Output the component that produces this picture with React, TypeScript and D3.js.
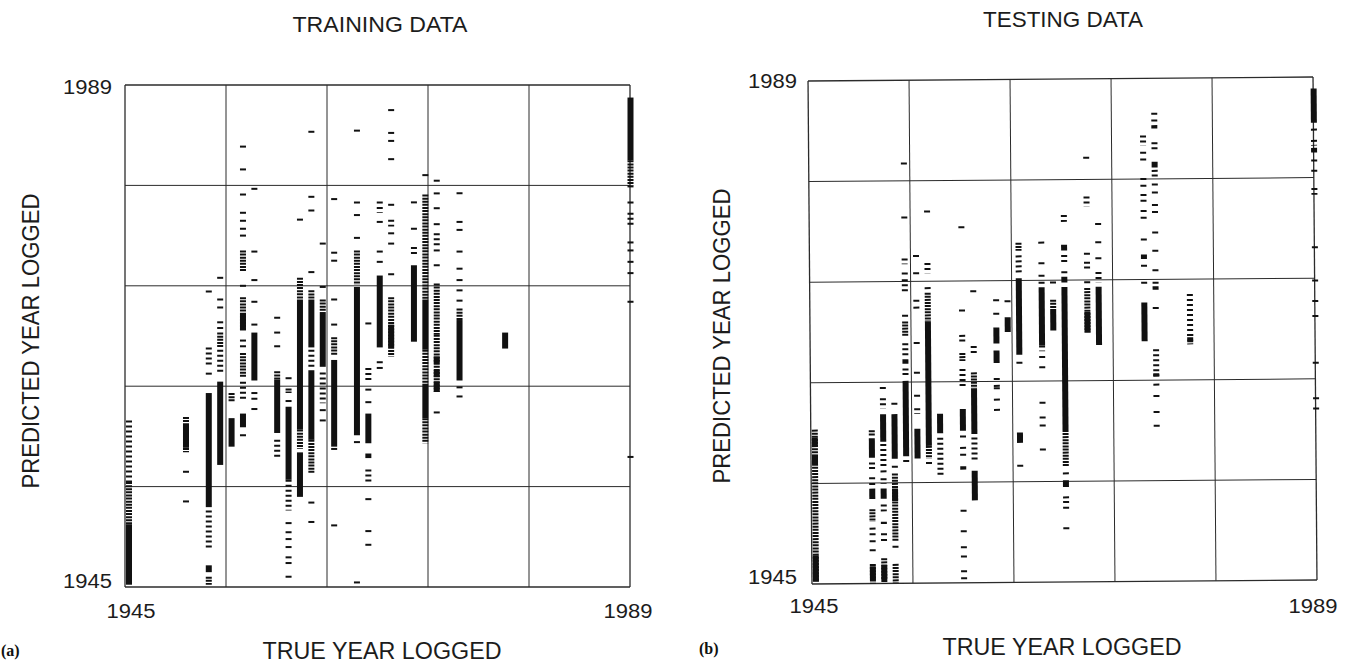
import React, { useEffect, useRef } from 'react';
import * as d3 from 'd3';

// [true year, kind, predicted from, predicted to]
// kind: 's' = solid block, 'd' = dense dashes, 'l' = loose dashes
type Run = [number, string, number, number];
// [true year, list of single predicted years]
type Singles = [number, number[]];

const YEAR_MIN = 1945;
const YEAR_MAX = 1989;
const tickYears = [1945, 1989];

const panelTitles = ['TRAINING DATA', 'TESTING DATA'];
const panelTags = ['(a)', '(b)'];
const xAxisTitle = 'TRUE YEAR LOGGED';
const yAxisTitle = 'PREDICTED YEAR LOGGED';

const trainRuns: Run[] = [
  [1945, 'l', 1954.2, 1959.6], [1945, 'd', 1949.7, 1954.2], [1945, 's', 1945.2, 1950.5],
  [1950, 'd', 1956.8, 1959.9], [1950, 's', 1957.2, 1959.2],
  [1952, 'l', 1964.5, 1966.0], [1952, 's', 1952.0, 1962.0], [1952, 'l', 1948.2, 1951.7],
  [1952, 's', 1946.3, 1946.9], [1952, 'd', 1945.2, 1945.9],
  [1953, 'd', 1966.0, 1967.3], [1953, 'l', 1963.8, 1965.8], [1953, 's', 1955.7, 1963.0],
  [1954, 'd', 1961.2, 1962.0], [1954, 's', 1957.3, 1959.8],
  [1955, 'd', 1972.6, 1974.5], [1955, 'd', 1967.5, 1970.4], [1955, 's', 1967.5, 1969.0],
  [1955, 'd', 1963.4, 1965.5], [1955, 'l', 1961.5, 1963.0], [1955, 's', 1959.0, 1960.2],
  [1956, 's', 1963.1, 1967.3],
  [1958, 'd', 1963.2, 1963.9], [1958, 's', 1958.5, 1963.2], [1958, 'l', 1956.3, 1957.9],
  [1959, 'd', 1962.0, 1962.4], [1959, 's', 1954.4, 1960.8], [1959, 'l', 1951.7, 1954.4],
  [1960, 'd', 1970.2, 1972.1], [1960, 's', 1958.8, 1970.2], [1960, 'd', 1957.1, 1958.8],
  [1960, 's', 1952.9, 1956.8],
  [1961, 'd', 1970.2, 1971.0], [1961, 's', 1966.0, 1970.2], [1961, 'l', 1964.3, 1965.8],
  [1961, 's', 1957.9, 1964.0], [1961, 'd', 1955.0, 1957.9],
  [1962, 'd', 1969.1, 1970.2], [1962, 's', 1964.3, 1969.1], [1962, 'l', 1961.1, 1963.8],
  [1963, 'd', 1965.3, 1966.9], [1963, 's', 1957.3, 1964.9],
  [1965, 'd', 1971.5, 1974.5], [1965, 's', 1958.3, 1971.3],
  [1966, 'l', 1963.0, 1964.2], [1966, 's', 1957.6, 1960.2], [1966, 's', 1956.3, 1956.7],
  [1966, 'l', 1954.2, 1955.3],
  [1967, 'l', 1977.8, 1978.3], [1967, 's', 1966.0, 1972.3],
  [1968, 'l', 1976.6, 1977.2], [1968, 'l', 1972.2, 1972.5], [1968, 'd', 1965.2, 1970.4],
  [1968, 's', 1966.0, 1968.0],
  [1970, 'l', 1978.5, 1978.8], [1970, 'l', 1974.1, 1974.8], [1970, 's', 1966.5, 1973.2],
  [1971, 'd', 1970.2, 1979.4], [1971, 's', 1965.8, 1970.2], [1971, 'd', 1962.8, 1965.8],
  [1971, 's', 1959.8, 1962.8], [1971, 'd', 1957.6, 1959.8],
  [1972, 'l', 1980.4, 1980.7], [1972, 'l', 1974.8, 1976.0], [1972, 'd', 1967.1, 1971.6],
  [1972, 'd', 1962.1, 1967.1], [1972, 's', 1962.1, 1963.0], [1972, 's', 1963.4, 1964.0],
  [1972, 's', 1964.6, 1965.2],
  [1974, 'l', 1979.2, 1979.6], [1974, 'd', 1968.4, 1969.4], [1974, 's', 1963.1, 1968.4],
  [1978, 's', 1965.9, 1967.3],
  [1989, 's', 1982.4, 1987.9], [1989, 'd', 1980.2, 1982.4], [1989, 'l', 1979.8, 1980.2],
  [1989, 'l', 1976.6, 1977.8], [1989, 'l', 1972.3, 1972.6],
];

const trainSingles: Singles[] = [
  [1950, [1955.1, 1952.5]],
  [1952, [1970.9, 1963.7]],
  [1953, [1972.1, 1970.2, 1969.5, 1968.2, 1967.7]],
  [1955, [1983.6, 1981.6, 1979.4, 1977.8, 1977.1, 1976.4, 1975.8, 1971.4, 1966.6, 1966.1, 1958.3]],
  [1956, [1979.9, 1974.4, 1971.9, 1970.0, 1968.0, 1962.0, 1961.5, 1960.6]],
  [1958, [1968.6, 1967.3, 1966.1]],
  [1959, [1963.3, 1961.3, 1950.6, 1949.8, 1949.2, 1948.5, 1947.6, 1947.1, 1945.9]],
  [1960, [1977.2]],
  [1961, [1984.9, 1979.2, 1978.0, 1972.6, 1952.4, 1950.7]],
  [1962, [1975.1, 1971.3, 1960.5, 1959.6]],
  [1963, [1979.0, 1974.3, 1973.6, 1970.2, 1968.0, 1957.1, 1950.4]],
  [1965, [1985.0, 1978.7, 1977.6, 1975.6, 1957.7, 1945.4]],
  [1966, [1968.1, 1962.3, 1961.2, 1952.7, 1949.9, 1948.7]],
  [1967, [1978.7, 1977.0, 1974.4, 1973.5, 1964.7, 1964.2]],
  [1968, [1986.8, 1984.8, 1984.1, 1982.5, 1978.5, 1976.0, 1975.1]],
  [1970, [1976.4]],
  [1971, [1981.1]],
  [1972, [1979.5, 1978.2, 1976.8, 1974.5, 1973.2, 1960.3]],
  [1974, [1977.0, 1976.3, 1974.4, 1972.9, 1971.9, 1971.0, 1970.1, 1962.5, 1961.7]],
  [1989, [1978.7, 1975.2, 1974.5, 1973.5, 1970.0, 1956.4]],
];

const testRuns: Run[] = [
  [1945, 'd', 1945.2, 1958.5], [1945, 's', 1945.2, 1947.5], [1945, 's', 1957.0, 1957.8],
  [1945, 's', 1955.5, 1956.3],
  [1950, 'd', 1957.9, 1958.4], [1950, 's', 1956.0, 1957.7], [1950, 's', 1952.4, 1953.3],
  [1950, 'd', 1950.4, 1951.5], [1950, 'd', 1945.0, 1946.7], [1950, 's', 1945.3, 1946.5],
  [1951, 'l', 1960.3, 1961.2], [1951, 's', 1957.4, 1959.8], [1951, 'l', 1955.1, 1957.2],
  [1951, 'l', 1953.7, 1954.2], [1951, 's', 1952.4, 1953.3], [1951, 'l', 1951.3, 1951.9],
  [1951, 's', 1950.2, 1950.4], [1951, 'd', 1945.0, 1947.2], [1951, 's', 1945.3, 1946.6],
  [1952, 's', 1955.9, 1959.8], [1952, 'd', 1948.7, 1954.6], [1952, 's', 1952.2, 1953.3],
  [1952, 'd', 1945.0, 1946.7],
  [1953, 'l', 1981.5, 1981.8], [1953, 'l', 1972.9, 1973.4], [1953, 'l', 1970.5, 1971.6],
  [1953, 'd', 1966.6, 1967.9], [1953, 'l', 1964.9, 1966.0], [1953, 's', 1964.2, 1964.6],
  [1953, 's', 1956.1, 1962.7],
  [1954, 'l', 1973.4, 1973.7], [1954, 'l', 1959.8, 1960.3], [1954, 's', 1955.9, 1958.5],
  [1955, 'l', 1972.1, 1973.0], [1955, 'd', 1967.9, 1970.4], [1955, 's', 1957.0, 1967.9],
  [1955, 'd', 1955.9, 1957.0],
  [1956, 's', 1958.1, 1959.8], [1956, 'l', 1954.4, 1957.7],
  [1958, 'l', 1968.6, 1968.9], [1958, 'd', 1964.4, 1965.1], [1958, 'l', 1962.0, 1963.7],
  [1958, 's', 1958.3, 1960.2], [1958, 's', 1954.9, 1955.2],
  [1959, 'l', 1964.9, 1965.7], [1959, 'd', 1962.0, 1963.4], [1959, 's', 1958.0, 1962.0],
  [1959, 'l', 1955.7, 1957.7], [1959, 's', 1952.2, 1954.8],
  [1961, 'l', 1968.2, 1968.6], [1961, 's', 1965.9, 1967.3], [1961, 's', 1964.2, 1965.3],
  [1962, 's', 1966.9, 1968.2],
  [1963, 'd', 1974.0, 1974.7], [1963, 'l', 1972.1, 1973.6], [1963, 's', 1964.9, 1971.6],
  [1963, 's', 1957.2, 1958.1],
  [1965, 's', 1965.7, 1970.8], [1965, 'l', 1965.2, 1965.7],
  [1966, 'd', 1968.8, 1969.7], [1966, 's', 1967.0, 1968.8],
  [1967, 'l', 1976.5, 1977.1], [1967, 's', 1974.0, 1974.5], [1967, 'l', 1972.9, 1973.6],
  [1967, 's', 1971.2, 1971.7], [1967, 's', 1958.3, 1970.8], [1967, 'd', 1955.1, 1958.3],
  [1967, 's', 1953.3, 1953.9],
  [1969, 'l', 1977.8, 1978.7], [1969, 'l', 1972.7, 1973.0], [1969, 'd', 1966.8, 1970.7],
  [1969, 's', 1966.8, 1968.6],
  [1970, 'l', 1971.2, 1972.1], [1970, 's', 1965.7, 1970.8],
  [1974, 'l', 1983.1, 1984.0], [1974, 'l', 1976.5, 1976.9], [1974, 's', 1973.2, 1973.6],
  [1974, 'l', 1970.8, 1971.2], [1974, 's', 1966.0, 1969.4],
  [1975, 'l', 1985.2, 1985.4], [1975, 's', 1984.6, 1984.9], [1975, 'l', 1982.7, 1983.4],
  [1975, 's', 1981.2, 1981.7], [1975, 'l', 1977.8, 1978.0], [1975, 'l', 1973.8, 1974.0],
  [1975, 'l', 1971.0, 1971.2], [1975, 's', 1970.5, 1970.8], [1975, 'l', 1962.9, 1965.3],
  [1975, 's', 1962.9, 1963.2],
  [1978, 'l', 1966.0, 1970.1], [1978, 'd', 1965.7, 1966.6],
  [1989, 's', 1985.0, 1988.0], [1989, 'l', 1983.0, 1983.5], [1989, 's', 1982.4, 1982.8],
  [1989, 'l', 1978.7, 1979.3],
];

const testSingles: Singles[] = [
  [1950, [1955.5, 1955.1, 1954.2, 1953.7, 1949.8, 1949.3, 1948.7, 1947.9]],
  [1951, [1962.1, 1954.8, 1949.3, 1948.8]],
  [1952, [1960.7, 1955.2, 1948.2]],
  [1953, [1977.0, 1972.1, 1968.4, 1963.7, 1963.3, 1955.7]],
  [1954, [1972.1, 1969.7, 1969.1, 1966.0, 1963.4, 1961.4]],
  [1955, [1977.5, 1970.8, 1955.5]],
  [1958, [1976.1, 1966.6, 1966.2, 1957.8, 1956.8, 1956.2, 1951.3, 1949.5, 1948.1, 1947.3, 1946.0, 1945.4]],
  [1959, [1970.5]],
  [1961, [1969.7, 1962.8, 1962.2, 1962.0, 1961.0, 1960.1]],
  [1962, [1969.6]],
  [1963, [1964.2, 1955.2]],
  [1965, [1974.7, 1972.9, 1971.8, 1971.2, 1964.7, 1963.8, 1960.7, 1959.4, 1958.7, 1956.6]],
  [1966, [1971.2]],
  [1967, [1972.1, 1954.5, 1952.4, 1952.0, 1951.5, 1949.7]],
  [1969, [1982.1, 1973.7, 1972.5, 1971.2]],
  [1970, [1976.3, 1974.7, 1973.3]],
  [1974, [1982.5, 1981.9, 1980.2, 1979.6, 1978.8, 1978.3, 1977.4, 1974.9, 1972.6]],
  [1975, [1985.9, 1980.9, 1980.5, 1979.7, 1979.0, 1977.3, 1975.5, 1972.2, 1968.9, 1962.2, 1961.2, 1959.8, 1958.6]],
  [1989, [1984.4, 1981.7, 1980.8, 1974.1, 1971.2, 1969.4, 1968.1, 1964.0, 1960.9, 1960.0]],
];

const FONT = '"Liberation Sans", Arial, Helvetica, sans-serif';
const INK = '#111';

const panels = [
  {
    x0: 125, x1: 630, y0: 85, y1: 587, rot: 0,
    title: [380, 32], yTitle: [31, 341], xTitle: [382, 659], tag: [1, 656],
    yTickX: 112, yTickBase: [588, 94], xTickX: [131, 628], xTickBase: 618,
  },
  {
    x0: 810, x1: 1315, y0: 79, y1: 582, rot: -0.45,
    title: [1063, 27], yTitle: [722, 336], xTitle: [1062, 655], tag: [699, 654],
    yTickX: 797, yTickBase: [584, 88], xTickX: [814, 1313], xTickBase: 613,
  },
];

const drawPanel = (svg, cfg, idx, runs: Run[], singles: Singles[]) => {
  const cx = (cfg.x0 + cfg.x1) / 2;
  const cy = (cfg.y0 + cfg.y1) / 2;
  const g = svg.append('g').attr('transform', `rotate(${cfg.rot},${cx},${cy})`);

  const x = d3.scaleLinear().domain([YEAR_MIN, YEAR_MAX]).range([cfg.x0, cfg.x1]);
  const y = d3.scaleLinear().domain([YEAR_MIN, YEAR_MAX]).range([cfg.y1, cfg.y0]);
  // marks start at the year position and run 6px to the right
  const mx = d3.scaleLinear().domain([YEAR_MIN, YEAR_MAX]).range([cfg.x0 + 1, cfg.x1 - 2.5]);
  const MW = 6;

  const grid = d3.range(6).map(i => YEAR_MIN + (i * (YEAR_MAX - YEAR_MIN)) / 5);

  const gridG = g.append('g').attr('stroke', '#2b2b2b').attr('fill', 'none');
  gridG.selectAll('line.v').data(grid).join('line')
    .attr('class', 'v')
    .attr('x1', d => x(d)).attr('x2', d => x(d))
    .attr('y1', cfg.y0).attr('y2', cfg.y1)
    .attr('stroke-width', (d, i) => (i === 0 || i === 5 ? 1.3 : 1));
  gridG.selectAll('line.h').data(grid).join('line')
    .attr('class', 'h')
    .attr('y1', d => y(d)).attr('y2', d => y(d))
    .attr('x1', cfg.x0).attr('x2', cfg.x1)
    .attr('stroke-width', (d, i) => (i === 0 || i === 5 ? 1.3 : 1));

  // dashed runs
  g.append('g').selectAll('line')
    .data(runs.filter(r => r[1] !== 's'))
    .join('line')
    .attr('x1', d => mx(d[0]) + MW / 2).attr('x2', d => mx(d[0]) + MW / 2)
    .attr('y1', d => y(d[3])).attr('y2', d => y(d[2]))
    .attr('stroke', INK)
    .attr('stroke-width', MW)
    .attr('stroke-dasharray', d => (d[1] === 'd' ? '2 1.1' : '2 3'));

  // solid blocks
  g.append('g').selectAll('rect')
    .data(runs.filter(r => r[1] === 's'))
    .join('rect')
    .attr('x', d => mx(d[0]))
    .attr('width', MW)
    .attr('y', d => y(d[3]))
    .attr('height', d => Math.max(2, y(d[2]) - y(d[3])))
    .attr('fill', INK);

  // single ticks
  const flat = singles.flatMap(([yr, vals]) => vals.map(v => [yr, v]));
  g.append('g').selectAll('rect')
    .data(flat)
    .join('rect')
    .attr('x', d => mx(d[0]))
    .attr('width', MW)
    .attr('y', d => y(d[1]) - 1)
    .attr('height', 2)
    .attr('fill', INK);

  const txt = svg.append('g').attr('fill', '#1c1c1c').style('font-family', FONT);

  txt.append('text')
    .attr('x', cfg.title[0]).attr('y', cfg.title[1])
    .attr('text-anchor', 'middle')
    .attr('font-size', 22)
    .attr('textLength', idx === 0 ? 175 : 160)
    .attr('lengthAdjust', 'spacingAndGlyphs')
    .text(panelTitles[idx]);

  txt.append('text')
    .attr('transform', `translate(${cfg.yTitle[0] + 8},${cfg.yTitle[1]}) rotate(-90)`)
    .attr('text-anchor', 'middle')
    .attr('font-size', 23)
    .attr('textLength', 295)
    .attr('lengthAdjust', 'spacingAndGlyphs')
    .text(yAxisTitle);

  txt.append('text')
    .attr('x', cfg.xTitle[0]).attr('y', cfg.xTitle[1])
    .attr('text-anchor', 'middle')
    .attr('font-size', 23)
    .attr('textLength', 239)
    .attr('lengthAdjust', 'spacingAndGlyphs')
    .text(xAxisTitle);

  // y tick labels
  txt.selectAll('text.yt').data(tickYears).join('text')
    .attr('class', 'yt')
    .attr('x', cfg.yTickX)
    .attr('y', (d, i) => cfg.yTickBase[i])
    .attr('text-anchor', 'end')
    .attr('font-size', 20)
    .attr('textLength', 49)
    .attr('lengthAdjust', 'spacingAndGlyphs')
    .text(d => d);

  // x tick labels
  txt.selectAll('text.xt').data(tickYears).join('text')
    .attr('class', 'xt')
    .attr('x', (d, i) => cfg.xTickX[i])
    .attr('y', cfg.xTickBase)
    .attr('text-anchor', 'middle')
    .attr('font-size', 20)
    .attr('textLength', 49)
    .attr('lengthAdjust', 'spacingAndGlyphs')
    .text(d => d);

  svg.append('text')
    .attr('x', cfg.tag[0]).attr('y', cfg.tag[1])
    .attr('font-family', '"Liberation Serif", "Times New Roman", serif')
    .attr('font-weight', 'bold')
    .attr('font-size', 16)
    .attr('fill', '#111')
    .text(panelTags[idx]);
};

const App = () => {
  const svgRef = useRef(null);

  useEffect(() => {
    const svg = d3.select(svgRef.current);
    svg.selectAll('*').remove();
    drawPanel(svg, panels[0], 0, trainRuns, trainSingles);
    drawPanel(svg, panels[1], 1, testRuns, testSingles);
  }, []);

  return (
    <svg
      ref={svgRef}
      width={1345}
      height={664}
      style={{ position: 'absolute', left: 0, top: 0, background: '#fff' }}
    />
  );
};

export default App;
